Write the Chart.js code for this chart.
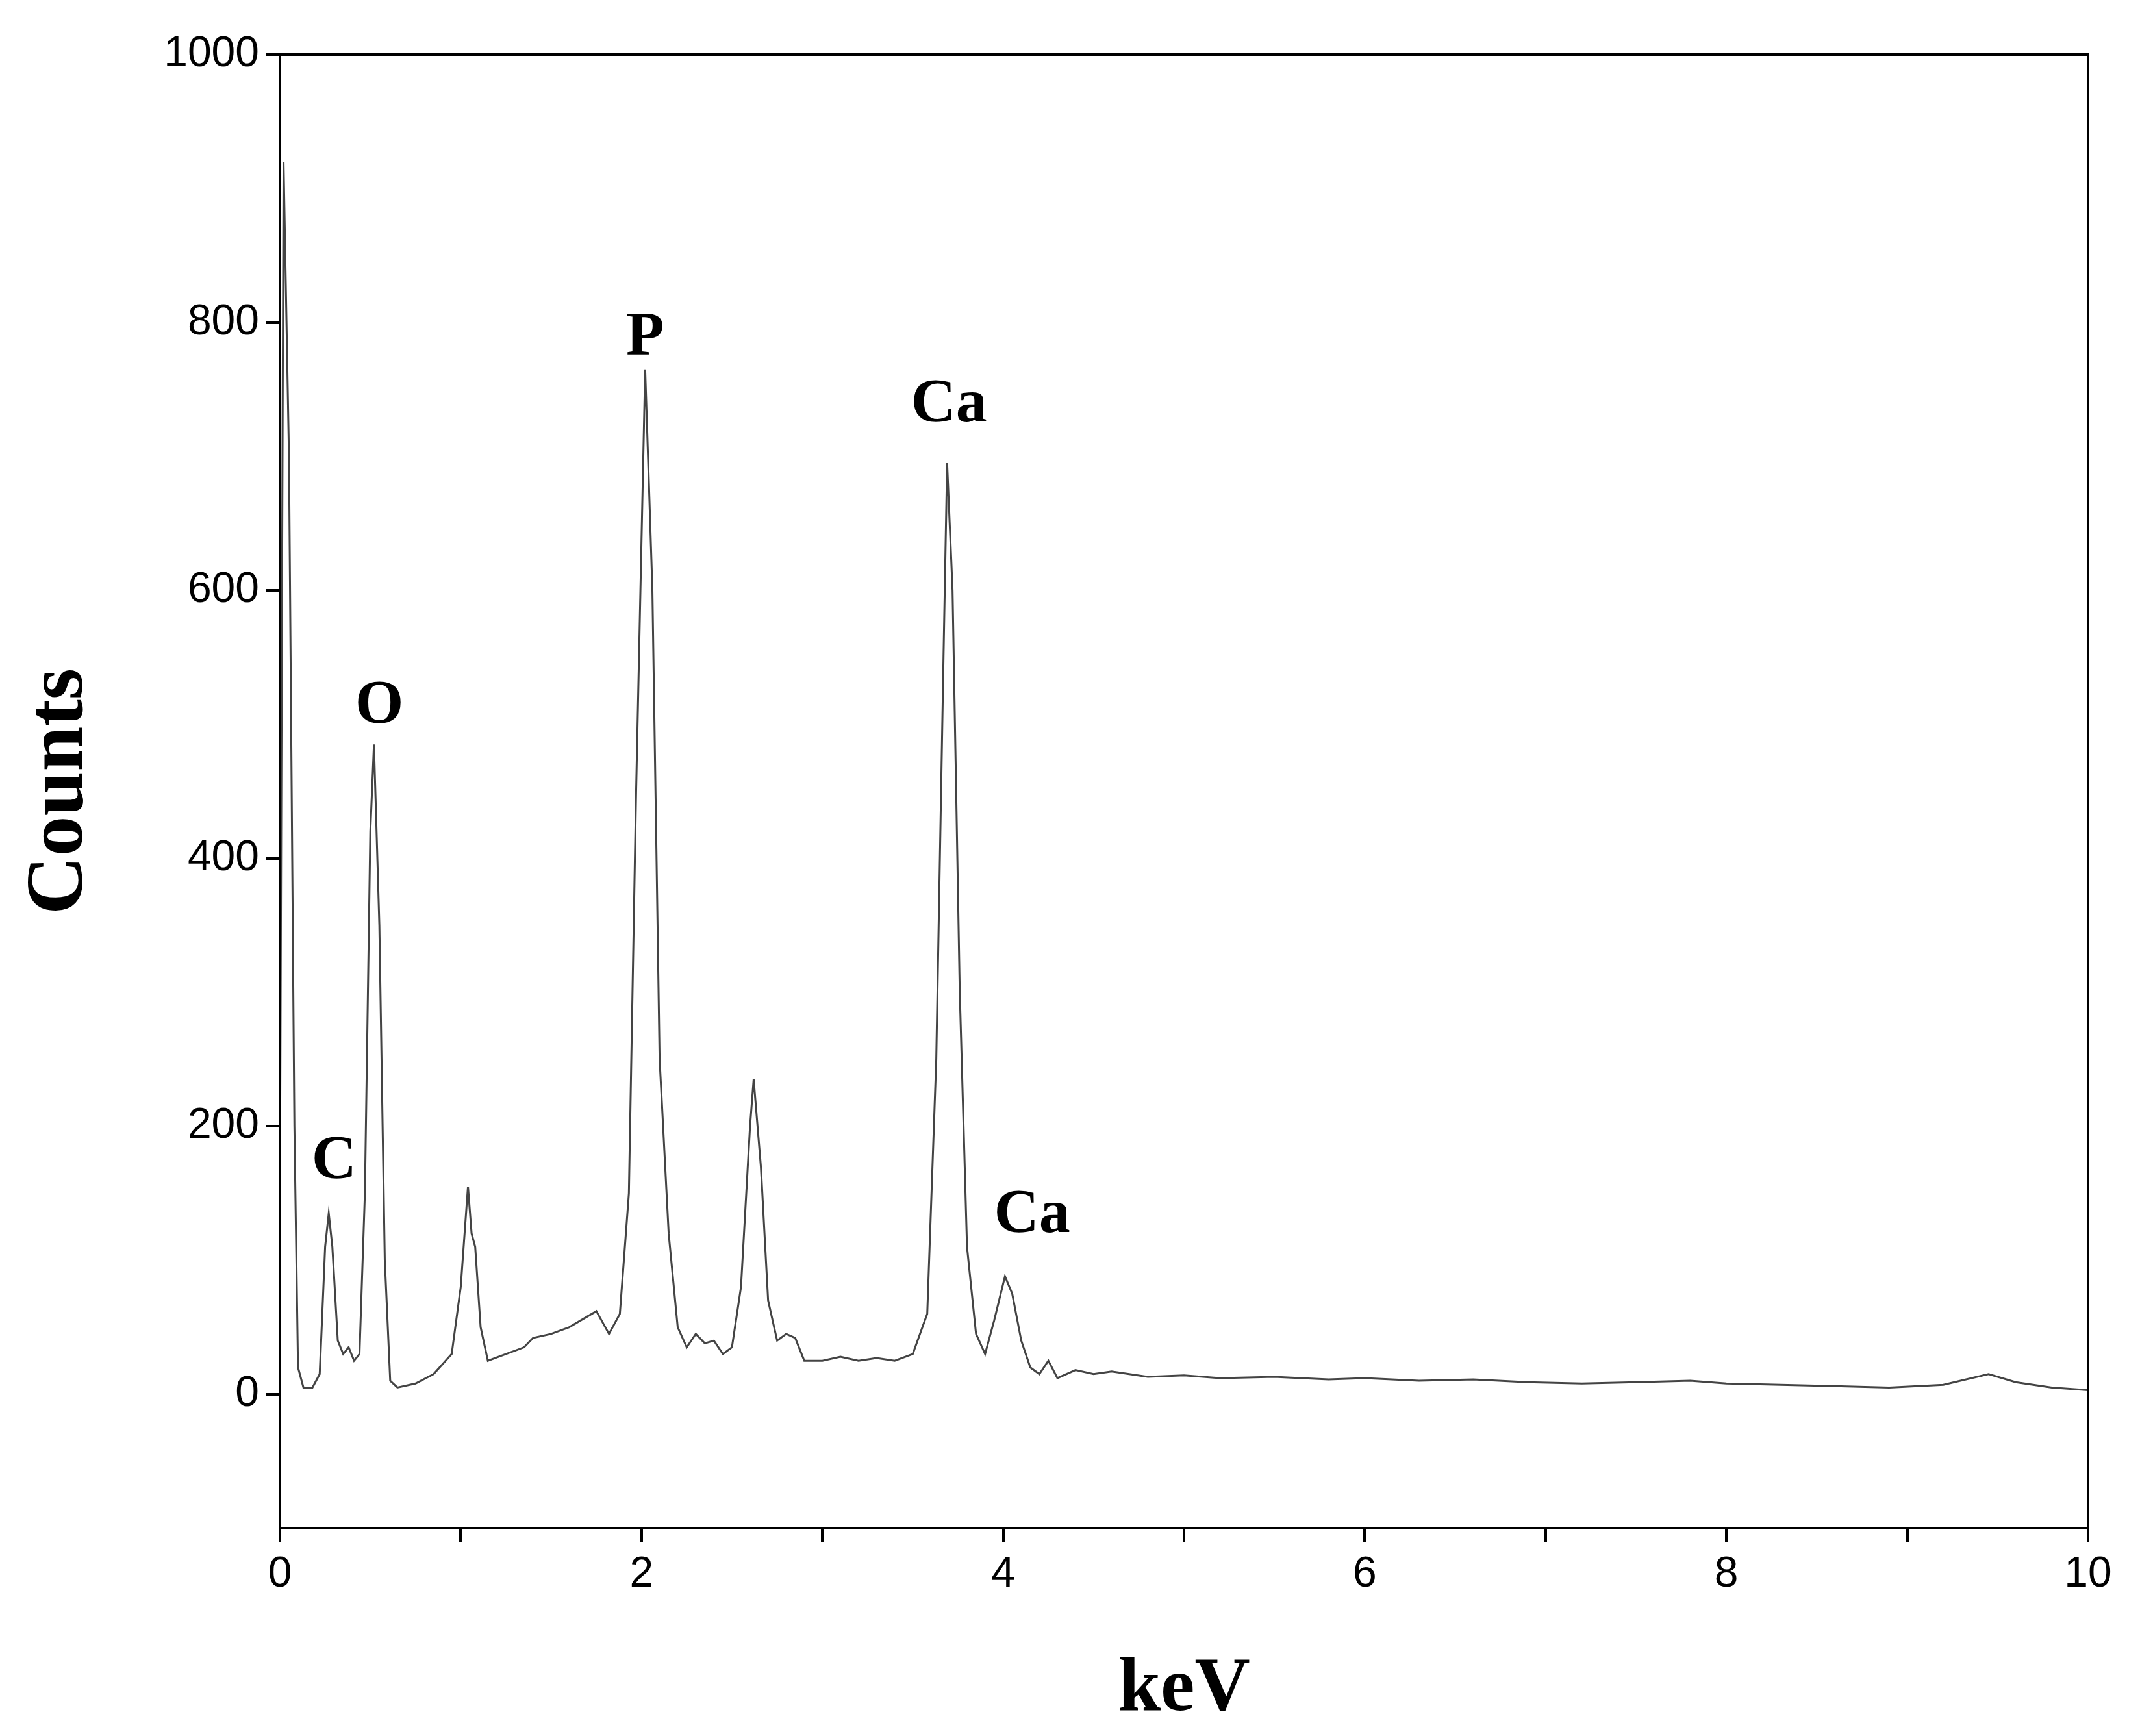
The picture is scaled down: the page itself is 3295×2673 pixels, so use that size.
<!DOCTYPE html>
<html><head><meta charset="utf-8">
<script src="https://cdn.jsdelivr.net/npm/chart.js@4/dist/chart.umd.min.js"></script>
<style>html,body{margin:0;padding:0;background:#fff}</style>
</head><body>
<canvas id="c" width="3295" height="2673" style="width:3295px;height:2673px"></canvas>
<script>
const energies=[0.00,0.02,0.05,0.08,0.10,0.13,0.18,0.22,0.25,0.27,0.29,0.32,0.35,0.38,0.41,0.44,0.47,0.50,0.52,0.55,0.58,0.61,0.65,0.75,0.85,0.95,1.00,1.04,1.06,1.08,1.11,1.15,1.25,1.35,1.40,1.50,1.60,1.70,1.75,1.82,1.88,1.93,1.97,2.02,2.06,2.10,2.15,2.20,2.25,2.30,2.35,2.40,2.45,2.50,2.55,2.60,2.62,2.66,2.70,2.75,2.80,2.85,2.90,3.00,3.10,3.20,3.30,3.40,3.50,3.58,3.63,3.67,3.69,3.72,3.76,3.80,3.85,3.90,3.95,4.01,4.05,4.10,4.15,4.20,4.25,4.30,4.40,4.50,4.60,4.80,5.00,5.20,5.50,5.80,6.00,6.30,6.60,6.90,7.20,7.50,7.80,8.00,8.30,8.60,8.90,9.20,9.45,9.60,9.80,10.00];
const counts=[150,920,700,200,20,5,5,15,110,135,110,40,30,35,25,30,150,420,485,350,100,10,5,8,15,30,80,155,120,110,50,25,30,35,42,45,50,58,62,45,60,150,450,765,600,250,120,50,35,45,38,40,30,35,80,200,235,170,70,40,45,42,25,25,28,25,27,25,30,60,250,550,695,600,300,110,45,30,55,88,75,40,20,15,25,12,18,15,17,13,14,12,13,11,12,10,11,9,8,9,10,8,7,6,5,7,15,9,5,3];
const yTickValues=[0,200,400,600,800,1000];
const xTickLabels=['0','2','4','6','8','10'];
const peakLabels=['C','O','P','Ca','Ca'];
const peakX=[0.30,0.55,2.02,3.70,4.16];
const peakY=[150,490,765,715,110];

const annot={id:'annot',afterDraw(ch){
  const c=ch.ctx,xs=ch.scales.x,ys=ch.scales.y,a=ch.chartArea;
  c.save();
  c.strokeStyle='#000';c.lineWidth=4;c.strokeRect(a.left,a.top,a.right-a.left,a.bottom-a.top);
  c.fillStyle='#000';c.font='bold 96px "Liberation Serif"';c.textAlign='center';c.textBaseline='bottom';
  peakLabels.forEach((t,i)=>c.fillText(t,xs.getPixelForValue(peakX[i]),ys.getPixelForValue(peakY[i])));
  c.restore();
}};
new Chart(document.getElementById('c'),{
  type:'line',
  data:{datasets:[{data:energies.map((e,i)=>({x:e,y:counts[i]})),borderColor:'#444',borderWidth:3,pointRadius:0,tension:0}]},
  options:{responsive:false,animation:false,
    layout:{padding:{left:20,top:84,right:80,bottom:0}},
    plugins:{legend:{display:false},tooltip:{enabled:false}},
    scales:{
      x:{type:'linear',min:0,max:10,
        afterFit(s){s.height=320;},
        ticks:{stepSize:1,color:'#000',font:{family:'Liberation Sans',size:66},padding:10,maxRotation:0,
          callback:v=>v%2===0?xTickLabels[v/2]:''},
        grid:{drawOnChartArea:false,tickLength:22,color:'#000',lineWidth:4},border:{color:'#000',width:4},
        title:{display:true,text:'keV',color:'#000',font:{family:'Liberation Serif',size:118,weight:'bold'},padding:{top:0,bottom:0}}},
      y:{type:'linear',min:-100,max:1000,
        afterFit(s){s.width=411;},
        afterBuildTicks(s){s.ticks=yTickValues.map(v=>({value:v}));},
        ticks:{color:'#000',font:{family:'Liberation Sans',size:66},padding:10,callback:v=>String(v)},
        grid:{drawOnChartArea:false,tickLength:22,color:'#000',lineWidth:4},border:{color:'#000',width:4},
        title:{display:true,text:'Counts',color:'#000',font:{family:'Liberation Serif',size:124,weight:'bold'},padding:{top:0,bottom:0}}}
    }},
  plugins:[annot]
});
</script></body></html>
